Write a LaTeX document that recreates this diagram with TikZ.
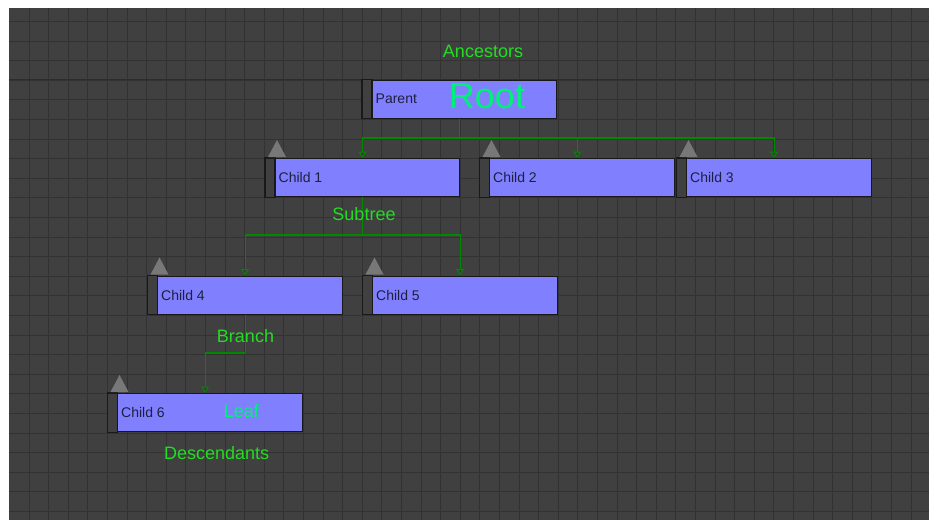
\documentclass[tikz,border=0pt]{standalone}
\usepackage{fontspec}
\setmainfont{Liberation Sans}
\usetikzlibrary{arrows.meta}
\definecolor{bg}{HTML}{404040}
\definecolor{gridc}{HTML}{323232}
\definecolor{majorc}{HTML}{2C2C2C}
\definecolor{boxblue}{HTML}{8080FF}
\definecolor{lbl}{HTML}{22DD22}
\definecolor{big}{HTML}{00F07A}
\definecolor{linkc}{HTML}{008800}
\definecolor{txt}{HTML}{1E1E40}
\definecolor{tri}{HTML}{787878}
\tikzset{
  cbox/.style={draw=black!90, fill=boxblue, line width=1.1pt, minimum width=194pt,
    minimum height=38pt, inner sep=0pt, anchor=north west},
  side/.style={draw=black!90, fill=bg, line width=1.1pt},
  ctext/.style={text=txt, font=\fontsize{14}{16}\selectfont, inner sep=0pt, anchor=west},
  lab/.style={text=lbl, font=\fontsize{18}{20}\selectfont, inner sep=0pt},
  biglab/.style={text=big, inner sep=0pt},
  link/.style={draw=linkc, line width=1.1pt},
  arr/.style={link, -{Triangle[open, length=6.5pt, width=8pt, line width=1pt]}},
  gridline/.style={draw=gridc, line width=0.9pt},
}
\begin{document}
\begin{tikzpicture}[x=1pt, y=-1pt]
\useasboundingbox (0,0) rectangle (929,520);
\fill[white] (0,0) rectangle (929,520);
\fill[bg] (9,8) rectangle (929,520);
% grid
\foreach \i in {1,...,47} \draw[gridline] ({9.5+19.6*\i},8) -- ({9.5+19.6*\i},520);
\foreach \j in {0,...,25} \draw[gridline] (9,{21.4+19.6*\j}) -- (929,{21.4+19.6*\j});
\draw[majorc, line width=1.6pt] (9,79.5) -- (929,79.5);

% boxes
\node[cbox] (parent) at (362,79.5) {};
\node[cbox] (c1) at (265,158) {};
\node[cbox] (c2) at (479.5,158) {};
\node[cbox] (c3) at (676.5,158) {};
\node[cbox] (c4) at (147.5,275.5) {};
\node[cbox] (c5) at (362.5,275.5) {};
\node[cbox] (c6) at (107.5,393) {};

\foreach \n in {parent,c1,c2,c3,c4,c5,c6}
  \draw[side] (\n.north west) rectangle ([xshift=10pt]\n.south west);
\foreach \n in {c1,c2,c3,c4,c5,c6}
  \fill[tri] ([xshift=3pt,yshift=1pt]\n.north west) -- ([xshift=21pt,yshift=1pt]\n.north west)
    -- ([xshift=12pt,yshift=18pt]\n.north west) -- cycle;

% texts in boxes
\node[ctext] (tp) at ([xshift=13.5pt]parent.west) {Parent};
\node[ctext] (t1) at ([xshift=13.5pt]c1.west) {Child 1};
\node[ctext] (t2) at ([xshift=13.5pt]c2.west) {Child 2};
\node[ctext] (t3) at ([xshift=13.5pt]c3.west) {Child 3};
\node[ctext] (t4) at ([xshift=13.5pt]c4.west) {Child 4};
\node[ctext] (t5) at ([xshift=13.5pt]c5.west) {Child 5};
\node[ctext] (t6) at ([xshift=13.5pt]c6.west) {Child 6};

% connectors
\coordinate (j1) at (parent.south |- 0,138);
\coordinate (j2) at (c1.south |- 0,235);
\coordinate (j3) at (c4.south |- 0,353);
\draw[link] (parent.south) -- (j1);
\draw[arr] (j1) -| (c1.north);
\draw[arr] (j1) -| (c2.north);
\draw[arr] (j1) -| (c3.north);
\draw[link] (c1.south) -- (j2);
\draw[arr] (j2) -| (c4.north);
\draw[arr] (j2) -| (c5.north);
\draw[link] (c4.south) -- (j3);
\draw[arr] (j3) -| (c6.north);

% labels
\node[biglab, font=\fontsize{36}{40}\selectfont] (root) at (487,96.5) {Root};
\node[biglab, font=\fontsize{18}{20}\selectfont] (leaf) at (241.3,410.7) {Leaf};
\node[lab] (anc) at (483,51) {Ancestors};
\node[lab] (sub) at (364,214) {Subtree};
\node[lab] (br) at (245.5,336) {Branch};
\node[lab] (desc) at (216.7,453.3) {Descendants};
\end{tikzpicture}
\end{document}
